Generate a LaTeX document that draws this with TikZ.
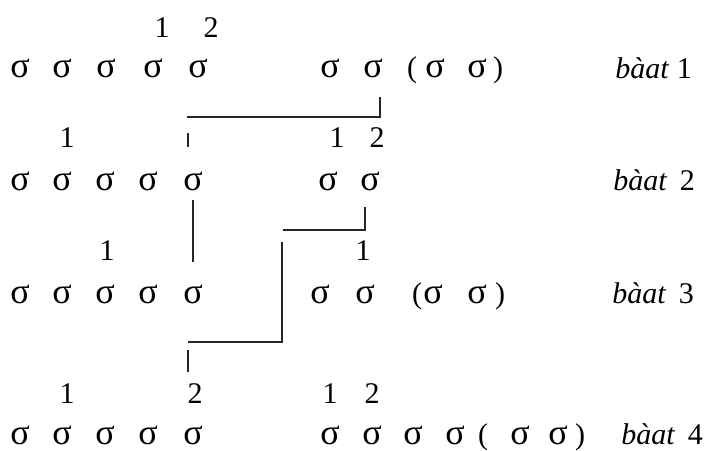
\documentclass[tikz,border=0pt]{standalone}
\usepackage{fontspec}
\setmainfont{Liberation Serif}
\begin{document}
\begin{tikzpicture}[x=0.5pt,y=-0.5pt,
  txt/.style={anchor=base,inner sep=0pt,font=\fontsize{15}{18}\selectfont},
  syl/.style={txt,font=\fontsize{18}{20}\selectfont},
  tag/.style={txt,anchor=base west},
  link/.style={line width=0.8pt,draw=black!85}]
\useasboundingbox (0,0) rectangle (706,450);

% --- line 1 ---
\foreach \x [count=\i] in {20,62,106,153,198,330,373,435,477}
  \node[syl] (ai\i) at (\x,77) {σ};
\node[txt] (aiL) at (412,77) {(};
\node[txt] (aiR) at (498,77) {)};
\node[txt] (an1) at (162,37) {1};
\node[txt] (an2) at (211,37) {2};
\node[tag] (at) at (615,78) {\textit{bàat} 1};

% --- line 2 ---
\foreach \x [count=\i] in {20,62,105,148,193,328,370}
  \node[syl] (bi\i) at (\x,190) {σ};
\node[txt] (bn1) at (67,147) {1};
\node[txt] (bn2) at (337,147) {1};
\node[txt] (bn3) at (377,147) {2};
\node[tag] (bt) at (613,190) {\textit{bàat}\, 2};

% --- line 3 ---
\foreach \x [count=\i] in {20,62,105,148,193,320,365,433,477}
  \node[syl] (ci\i) at (\x,303) {σ};
\node[txt] (ciL) at (417,303) {(};
\node[txt] (ciR) at (500,303) {)};
\node[txt] (cn1) at (107,260) {1};
\node[txt] (cn2) at (363,260) {1};
\node[tag] (ct) at (612,303) {\textit{bàat}\, 3};

% --- line 4 ---
\foreach \x [count=\i] in {20,62,105,148,193,330,372,413,455,520,558}
  \node[syl] (di\i) at (\x,444) {σ};
\node[txt] (diL) at (483,444) {(};
\node[txt] (diR) at (580,444) {)};
\node[txt] (dn1) at (67,403) {1};
\node[txt] (dn2) at (195,403) {2};
\node[txt] (dn3) at (330,403) {1};
\node[txt] (dn4) at (372,403) {2};
\node[tag] (dt) at (621,444) {\textit{bàat}\, 4};

% --- association lines ---
\coordinate (p1) at (380,97);
\coordinate (p2) at (187,117);
\coordinate (p3) at (188,133);
\coordinate (p4) at (188,147);
\coordinate (p5) at (193,200);
\coordinate (p6) at (193,262);
\coordinate (p7) at (365,207);
\coordinate (p8) at (283,230);
\coordinate (p9) at (282,242);
\coordinate (p10) at (188,342);
\coordinate (p11) at (188,350);
\coordinate (p12) at (188,372);

\draw[link] (p1) |- (p2);
\draw[link] (p3) -- (p4);
\draw[link] (p5) -- (p6);
\draw[link] (p7) |- (p8);
\draw[link] (p9) |- (p10);
\draw[link] (p11) -- (p12);
\end{tikzpicture}
\end{document}
